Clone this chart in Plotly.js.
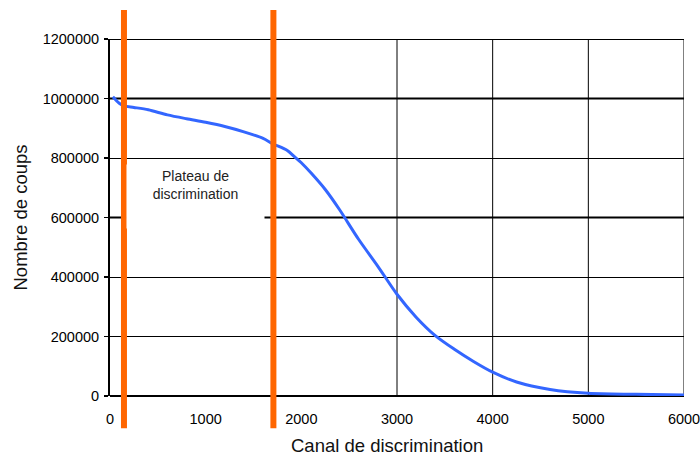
<!DOCTYPE html>
<html>
<head>
<meta charset="utf-8">
<script src="https://cdn.plot.ly/plotly-3.0.1.min.js"></script>
<style>html,body{margin:0;padding:0;background:#fff;}#chart{width:700px;height:457px;}</style>
</head>
<body>
<div id="chart"></div>
<script>
// Canal de discrimination (channel)
const channels = [30, 100, 150, 250, 400, 600, 800, 1000, 1200, 1400, 1600, 1700, 1850, 1930, 2000, 2100, 2250, 2400, 2600, 2800, 3000, 3200, 3400, 3600, 3800, 4000, 4250, 4600, 5000, 5500, 6000];
// Nombre de coups (counts)
const counts = [1006000, 983000, 975000, 970000, 962000, 945000, 932000, 920000, 906000, 888000, 866000, 848000, 826000, 804000, 784000, 750000, 694000, 626000, 526000, 436000, 342000, 265000, 203000, 157000, 116000, 80000, 47000, 22000, 9000, 5500, 3000];
// plateau bounds (channels)
const plateauBounds = [146, 1708];
const plateauLabel = "Plateau de<br>discrimination";
const plateauLabelPos = [890, 780000];
const xTicks = [0, 1000, 2000, 3000, 4000, 5000, 6000];
const yTicks = [0, 200000, 400000, 600000, 800000, 1000000, 1200000];
const xGridVisible = [3000, 4000, 5000, 6000];
const yGridThick = [600000, 1000000, 1200000];
const xTitle = 'Canal de discrimination';
const yTitle = 'Nombre de coups';

const font = "Liberation Sans, Arial, sans-serif";

const shapes = [];
xGridVisible.forEach(v => shapes.push({type: 'line', xref: 'x', yref: 'y', x0: v, x1: v, y0: 0, y1: 1200000, line: {color: '#000', width: 1}, layer: 'below'}));
yGridThick.forEach(v => shapes.push({type: 'line', xref: 'paper', yref: 'y', x0: 0, x1: 1, y0: v, y1: v, line: {color: '#000', width: 2}, layer: 'below'}));
plateauBounds.forEach(v => shapes.push({type: 'line', xref: 'x', yref: 'paper', x0: v, x1: v, y0: -0.09, y1: 1.081, line: {color: '#FF6600', width: 6}, layer: 'above'}));

const data = [{
  x: channels, y: counts, type: 'scatter', mode: 'lines',
  line: {color: '#3366FF', width: 3, shape: 'spline', smoothing: 0.8},
  hoverinfo: 'x+y', showlegend: false
}];

const layout = {
  width: 700, height: 457,
  margin: {l: 110, r: 16, t: 39, b: 61},
  paper_bgcolor: '#fff', plot_bgcolor: '#fff',
  font: {family: font, color: '#000'},
  showlegend: false,
  xaxis: {
    range: [0, 6000], tickvals: xTicks, ticktext: xTicks.map(String),
    showgrid: false, zeroline: false, showline: false,
    ticks: '', ticklabelstandoff: 12, ticklabeloverflow: 'allow',
    tickfont: {family: font, size: 14.5, color: '#000'},
    automargin: false, fixedrange: true
  },
  yaxis: {
    range: [0, 1200000], tickvals: yTicks, ticktext: yTicks.map(String),
    showgrid: true, gridcolor: '#000', gridwidth: 1,
    zeroline: true, zerolinecolor: '#000', zerolinewidth: 1.5,
    showline: true, linecolor: '#000', linewidth: 2,
    ticks: 'outside', ticklen: 4, tickwidth: 1.5, tickcolor: '#000',
    ticklabelstandoff: 2,
    tickfont: {family: font, size: 14.5, color: '#000'},
    title: {text: yTitle, font: {family: font, size: 18.5, color: '#111'}, standoff: 10},
    automargin: false, fixedrange: true
  },
  shapes: shapes,
  annotations: [{
    x: plateauLabelPos[0], y: plateauLabelPos[1], xref: 'x', yref: 'y',
    text: plateauLabel, showarrow: false,
    font: {family: font, size: 14, color: '#222'},
    bgcolor: '#fff', width: 131, height: 57, valign: 'top', borderpad: 3,
    xanchor: 'center', yanchor: 'top', align: 'center'
  }, {
    x: 0.482, y: -0.1709, xref: 'paper', yref: 'paper',
    text: xTitle, showarrow: false, borderpad: 0,
    font: {family: font, size: 18.5, color: '#111'},
    xanchor: 'center', yanchor: 'bottom'
  }]
};

Plotly.newPlot('chart', data, layout, {displayModeBar: false, staticPlot: true});
</script>
</body>
</html>
